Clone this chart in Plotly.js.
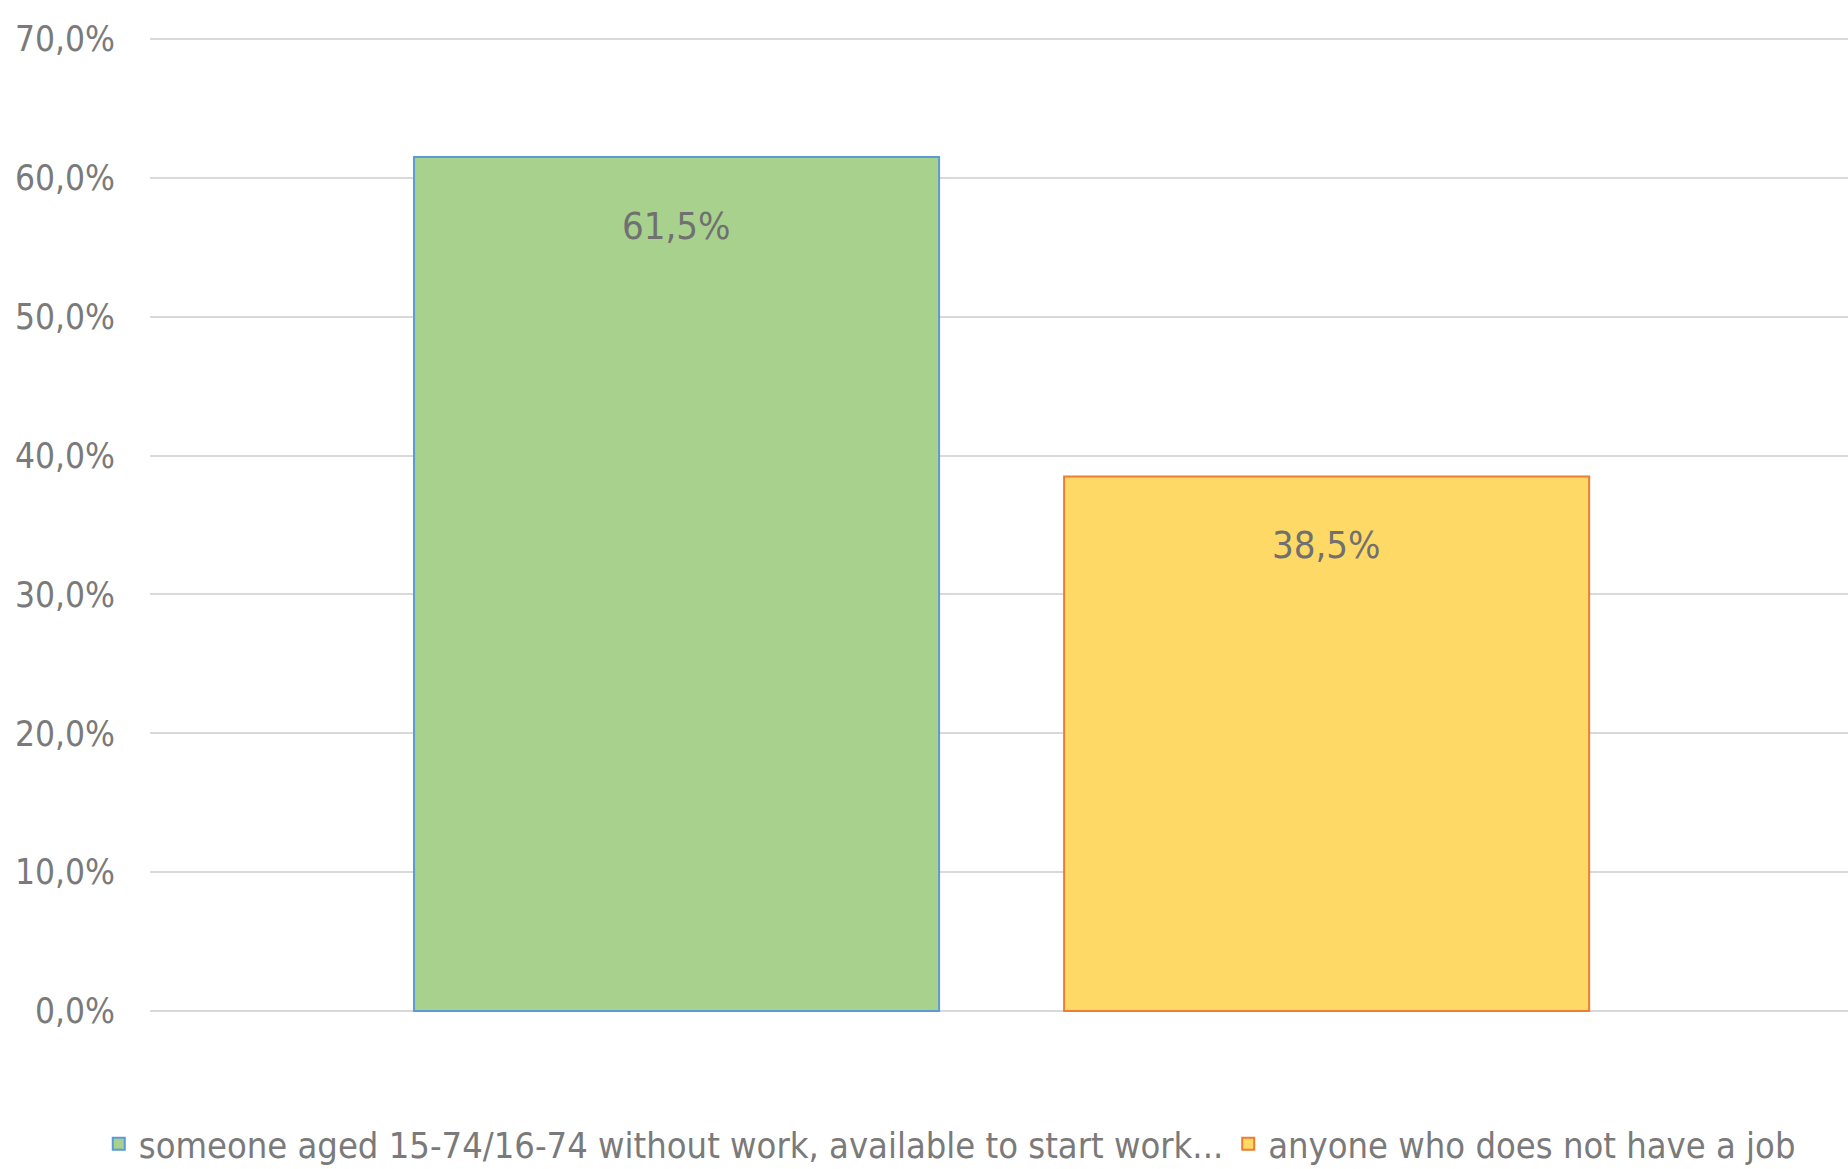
<!DOCTYPE html>
<html>
<head>
<meta charset="utf-8">
<script src="https://cdn.plot.ly/plotly-3.0.1.min.js"></script>
<style>html,body{margin:0;padding:0;background:#fff;}#chart{width:1848px;height:1169px;}</style>
</head>
<body>
<div id="chart"></div>
<script>
const categories = ['someone aged 15-74/16-74 without work, available to start work...', 'anyone who does not have a job'];
const values = [61.5, 38.5];
const valueLabels = ['61,5%', '38,5%'];
const tickVals = [0, 10, 20, 30, 40, 50, 60, 70];
const tickLabels = ['0,0%', '10,0%', '20,0%', '30,0%', '40,0%', '50,0%', '60,0%', '70,0%'];
const fillColors = ['#A9D18E', '#FFD966'];
const lineColors = ['#5B9BD5', '#ED7D31'];

const FONT = '"DejaVu Sans Condensed", "Liberation Sans Narrow", sans-serif';

const traces = categories.map((c, i) => ({
  type: 'bar',
  name: c,
  x: [c],
  y: [values[i]],
  width: 0.8077,
  marker: {color: fillColors[i], line: {color: lineColors[i], width: 2}},
  hoverinfo: 'none'
}));

const annotations = categories.map((c, i) => ({
  x: c, y: values[i], xref: 'x', yref: 'y',
  text: valueLabels[i], showarrow: false,
  yanchor: 'middle', yshift: -69,
  font: {family: FONT, size: 38, color: '#707070'}
}));

const layout = {
  width: 1848, height: 1169,
  margin: {l: 150, r: 0, t: 37, b: 156, pad: 0, autoexpand: false},
  paper_bgcolor: '#ffffff', plot_bgcolor: '#ffffff',
  font: {family: FONT, color: '#7a7a7a'},
  barmode: 'overlay',
  xaxis: {type: 'category', range: [-0.81, 1.802], showticklabels: false, showgrid: false, zeroline: false, showline: false, ticks: ''},
  yaxis: {range: [-0.15, 70.15], tickvals: tickVals, ticktext: tickLabels, showgrid: true, gridcolor: '#D9D9D9', gridwidth: 2,
          zeroline: false, showline: false, ticks: '', ticklabelstandoff: 34, automargin: false,
          tickfont: {family: FONT, size: 35, color: '#7a7a7a'}},
  showlegend: true,
  legend: {orientation: 'h', x: 0.471, xanchor: 'center', y: -0.134, yanchor: 'middle',
           font: {family: FONT, size: 36, color: '#7a7a7a'}, itemwidth: 30, tracegroupgap: 0},
  annotations: annotations
};

Plotly.newPlot('chart', traces, layout, {displayModeBar: false, staticPlot: true});
</script>
</body>
</html>
